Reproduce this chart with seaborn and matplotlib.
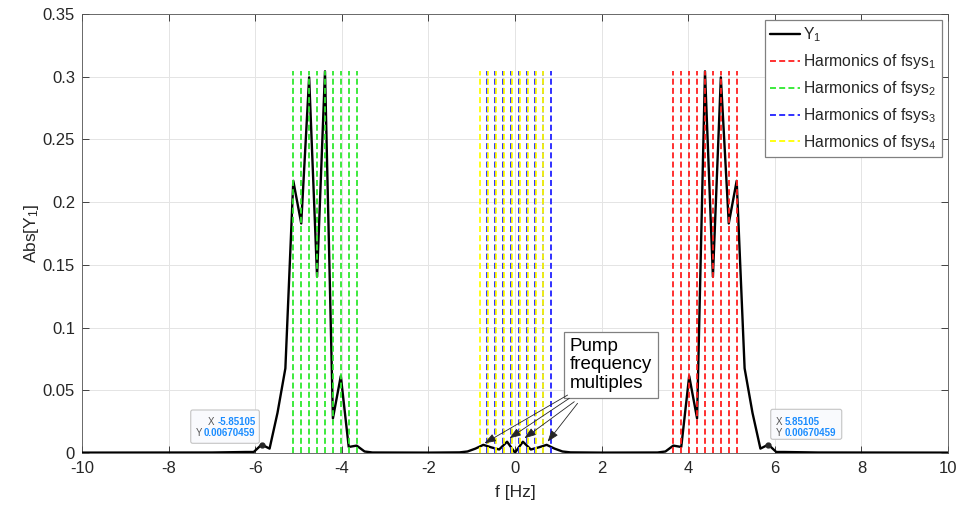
import numpy as np
import pandas as pd
import matplotlib
matplotlib.use("Agg")
import matplotlib.pyplot as plt
from matplotlib.patches import FancyBboxPatch
from matplotlib.transforms import IdentityTransform
import seaborn as sns

# Single-sided spectrum magnitude of the output Y1 (frequency in Hz)
freq = [-10.0, -7.0, -6.217, -6.034, -5.851, -5.668, -5.485, -5.303, -5.120,
        -4.937, -4.754, -4.571, -4.388, -4.205, -4.023, -3.840, -3.657, -3.474,
        -3.291, -2.0, -1.280, -1.097, -0.914, -0.731, -0.549, -0.366, -0.183,
        0.0, 0.183, 0.366, 0.549, 0.731, 0.914, 1.097, 1.280, 2.0, 3.291,
        3.474, 3.657, 3.840, 4.023, 4.205, 4.388, 4.571, 4.754, 4.937, 5.120,
        5.303, 5.485, 5.668, 5.851, 6.034, 6.217, 7.0, 10.0]
abs_y1 = [0.0003, 0.0004, 0.0008, 0.0008, 0.0067, 0.0035, 0.032, 0.0675, 0.217,
          0.183, 0.2995, 0.1405, 0.3043, 0.0276, 0.0614, 0.0048, 0.0059, 0.0012,
          0.0004, 0.0003, 0.0005, 0.0012, 0.0035, 0.0065, 0.0045, 0.0028, 0.009,
          0.0003, 0.009, 0.0028, 0.0045, 0.0065, 0.0035, 0.0012, 0.0005, 0.0003, 0.0004,
          0.0012, 0.0059, 0.0048, 0.0614, 0.0276, 0.3043, 0.1405, 0.2995, 0.183, 0.217,
          0.0675, 0.032, 0.0035, 0.0067, 0.0008, 0.0008, 0.0004, 0.0003]

# Harmonic frequencies of each subsystem (Hz)
fsys1_harm = [3.657, 3.840, 4.023, 4.205, 4.388, 4.571, 4.754, 4.937, 5.120]
fsys2_harm = [-5.120, -4.937, -4.754, -4.571, -4.388, -4.205, -4.023, -3.840, -3.657]
fsys3_harm = [-0.640, -0.457, -0.274, -0.091, 0.092, 0.275, 0.458, 0.641, 0.824]
fsys4_harm = [-0.806, -0.623, -0.440, -0.257, -0.074, 0.109, 0.292, 0.475, 0.658]

# Pump frequency multiples pointed at by the callout
pump_x = [-0.707, -0.130, 0.216, 0.753]
pump_y = [0.0077, 0.0117, 0.0117, 0.0090]
callout_x = [1.215, 1.254, 1.369, 1.445]
callout_y = [0.0462, 0.0436, 0.0409, 0.0396]

# Data tips
tip_x = [-5.85105, 5.85105]
tip_y = [0.00670459, 0.00670459]
tip_xtxt = ["-5.85105", "5.85105"]
tip_ytxt = ["0.00670459", "0.00670459"]

x_ticks = [-10, -8, -6, -4, -2, 0, 2, 4, 6, 8, 10]
x_tick_labels = ["-10", "-8", "-6", "-4", "-2", "0", "2", "4", "6", "8", "10"]
y_ticks = [0, 0.05, 0.1, 0.15, 0.2, 0.25, 0.3, 0.35]
y_tick_labels = ["0", "0.05", "0.1", "0.15", "0.2", "0.25", "0.3", "0.35"]

sns.set_theme(style="whitegrid")
plt.rcParams['font.family'] = ['Liberation Sans', 'DejaVu Sans']
plt.rcParams['mathtext.fontset'] = 'custom'
plt.rcParams['mathtext.rm'] = 'Liberation Sans'
plt.rcParams['mathtext.default'] = 'regular'

fig = plt.figure(figsize=(9.65, 5.11), dpi=100)
fig.patch.set_facecolor('white')
ax = fig.add_axes([0.08497, 0.1135, 0.8974, 0.8591])
ax.set_facecolor('white')

df = pd.DataFrame({"f": freq, "absY": abs_y1})
sns.lineplot(data=df, x="f", y="absY", ax=ax, color="black", linewidth=1.7,
             sort=False, estimator=None, label="Y$_1$", zorder=3)

ytop = max(abs_y1)
dash = (0, (3.3, 1.8))
harm_sets = [(fsys1_harm, "#ff2020", "Harmonics of fsys$_1$"),
             (fsys2_harm, "#2ee82e", "Harmonics of fsys$_2$"),
             (fsys3_harm, "#2020ff", "Harmonics of fsys$_3$"),
             (fsys4_harm, "#ffff00", "Harmonics of fsys$_4$")]
for xs, col, lab in harm_sets:
    ax.vlines(xs, 0, ytop, colors=col, linestyles=dash, linewidth=1.3,
              label=lab, zorder=4)

ax.set_xlim(-10, 10)
ax.set_ylim(0, 0.35)
ax.set_xticks(x_ticks)
ax.set_xticklabels(x_tick_labels)
ax.set_yticks(y_ticks)
ax.set_yticklabels(y_tick_labels)
ax.tick_params(axis='both', which='both', direction='in', length=5, width=0.6,
               color='#262626', labelcolor='#262626', labelsize=12,
               top=True, right=True, bottom=True, left=True)
ax.tick_params(axis='x', pad=6)
ax.tick_params(axis='y', pad=5)
ax.grid(True, color='#e4e4e4', linewidth=0.7)
for s in ax.spines.values():
    s.set_color('#555555')
    s.set_linewidth(0.6)
    s.set_visible(True)

ax.set_xlabel("f [Hz]", fontsize=12.5, color='#262626', labelpad=6)
ax.set_ylabel("Abs[Y$_1$]", fontsize=12.5, color='#262626', labelpad=1)

handles, labels = ax.get_legend_handles_labels()
leg = ax.legend(handles, labels, loc='upper right', fontsize=11.3,
                frameon=True, fancybox=False, framealpha=1, edgecolor='#808080',
                borderaxespad=0.4, borderpad=0.35, handlelength=1.9,
                handletextpad=0.2, labelspacing=0.5)
leg.get_frame().set_linewidth(0.9)

# Callout with arrows to pump frequency multiples
ax.text(2.217, 0.0702, "Pump\nfrequency\nmultiples", fontsize=13.5,
        ha='center', va='center', multialignment='left', linespacing=1.15,
        color='black', zorder=6,
        bbox=dict(boxstyle='square,pad=0.3', facecolor='white',
                  edgecolor='#808080', linewidth=0.9))
for hx, hy, tx, ty in zip(pump_x, pump_y, callout_x, callout_y):
    ax.annotate("", xy=(hx, hy), xytext=(tx, ty), zorder=6,
                arrowprops=dict(arrowstyle='-|>,head_length=0.7,head_width=0.25',
                                color='#262626', lw=0.6, shrinkA=0, shrinkB=0,
                                mutation_scale=10))

# Data tips
blue = '#1a8cff'
for i, (x, y) in enumerate(zip(tip_x, tip_y)):
    ax.plot([x], [y], marker='o', markersize=3.5, color='#262626', zorder=7)
    px, py = ax.transData.transform((x, y))
    if x < 0:
        bx0, bx1, by0, by1 = -70.9, -2.3, 1.3, 34.6
        rows = [(22.9, -47.6, "X", tip_xtxt[i]), (11.3, -59.6, "Y", tip_ytxt[i])]
    else:
        bx0, bx1, by0, by1 = 2.4, 73.4, 5.3, 35.3
        rows = [(22.9, 7.7, "X", tip_xtxt[i]), (11.6, 7.7, "Y", tip_ytxt[i])]
    box = FancyBboxPatch((px + bx0, py + by0), bx1 - bx0, by1 - by0,
                         boxstyle='round,pad=0,rounding_size=2',
                         transform=IdentityTransform(), facecolor='#f9fafd',
                         edgecolor='#c4c4c4', linewidth=0.8, zorder=7)
    fig.add_artist(box)
    for ry, lx, lab, val in rows:
        if x < 0:
            fig.text(px + lx, py + ry, lab, transform=IdentityTransform(),
                     ha='right', va='center', fontsize=7, color='#555555', zorder=8)
            fig.text(px - 6.1, py + ry, val, transform=IdentityTransform(),
                     ha='right', va='center', fontsize=7, color=blue,
                     fontweight='bold', zorder=8)
        else:
            fig.text(px + lx, py + ry, lab, transform=IdentityTransform(),
                     ha='left', va='center', fontsize=7, color='#555555', zorder=8)
            fig.text(px + 16.7, py + ry, val, transform=IdentityTransform(),
                     ha='left', va='center', fontsize=7, color=blue,
                     fontweight='bold', zorder=8)

fig.savefig("out.png", dpi=100)
